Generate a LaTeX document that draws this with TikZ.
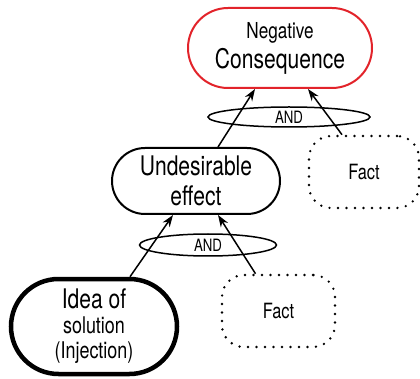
\documentclass[tikz,border=0pt]{standalone}
\usepackage{fontspec}
\setmainfont{TeX Gyre Heros}[FakeStretch=0.78]
\usetikzlibrary{shapes.misc,shapes.geometric,arrows.meta,calc}
\definecolor{conred}{HTML}{E2232A}
\newcommand{\fsz}[2]{\fontsize{#1}{#2}\selectfont}
\tikzset{
  pill/.style={rounded rectangle, draw, line width=2pt, align=center, inner sep=0pt},
  factbox/.style={draw, rounded corners=22pt, dash pattern=on 0pt off 8.5pt,
    line cap=round, line width=2.6pt, align=center, inner sep=0pt},
  andring/.style={ellipse, draw, line width=1.5pt, inner sep=0pt},
  link/.style={-{Stealth[length=12pt,width=8.5pt]}, line width=1.5pt},
}
\begin{document}
\begin{tikzpicture}[x=1pt,y=-1pt]
  \useasboundingbox (0,0) rectangle (420,379);

  % cause-effect boxes
  \node[pill, draw=conred, minimum width=184pt, minimum height=80pt,
        font=\fsz{27}{30}] (neg) at (280,48)
    {\fsz{22}{30}Negative\\\fsz{27}{30}Consequence};
  \node[pill, minimum width=168pt, minimum height=66pt,
        font=\fsz{27}{30}] (und) at (196,181)
    {Undesirable\\effect};
  \node[pill, line width=4.5pt, minimum width=166pt, minimum height=95pt,
        font=\fsz{27}{25}] (idea) at (94,326.5)
    {Idea of\\\fsz{23}{25}solution\\\fsz{23}{25}(Injection)};

  % supporting facts
  \node[factbox, minimum width=110pt, minimum height=72pt, font=\fsz{21}{24}] (fact1) at (364,172) {Fact};
  \node[factbox, minimum width=113pt, minimum height=72pt, font=\fsz{21}{24}] (fact2) at (278.5,311) {Fact};

  % logical AND connectors
  \node[andring, minimum width=162pt, minimum height=20pt, font=\fsz{17}{20}] (and1) at (289,117) {AND};
  \node[andring, minimum width=137pt, minimum height=22pt, font=\fsz{17}{20}] (and2) at (208,245) {AND};

  % arrows
  \draw[link] ($(und.north)+(22,0)$) -- ($(neg.south)+(-25,0)$);
  \draw[link] ($(fact1.north)+(-22,0)$) -- ($(neg.south)+(28,0)$);
  \draw[link] ($(idea.north)+(36,0)$) -- ($(und.south)+(-23,0)$);
  \draw[link] ($(fact2.north)+(-23,0)$) -- ($(und.south)+(22,0)$);
\end{tikzpicture}
\end{document}
